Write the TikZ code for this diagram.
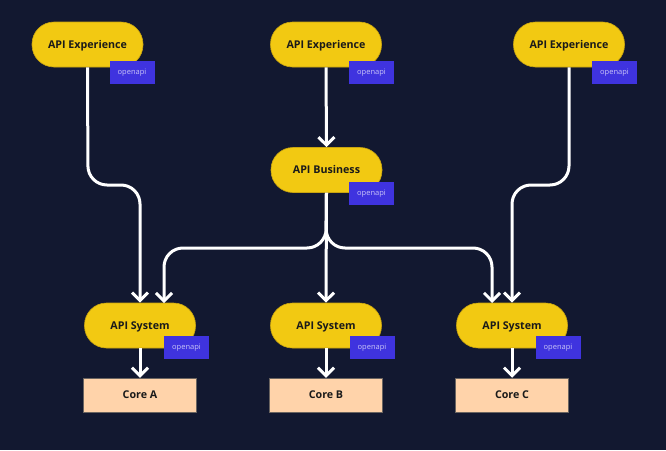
\documentclass[tikz,border=0pt]{standalone}
\usepackage{fontspec}
\setmainfont{Open Sans}
\usetikzlibrary{arrows.meta}
\definecolor{bg}{HTML}{121830}
\definecolor{pillc}{HTML}{F2C912}
\definecolor{pilledge}{HTML}{C9A410}
\definecolor{tagc}{HTML}{3F33DF}
\definecolor{tagtext}{HTML}{C9C4F7}
\definecolor{corec}{HTML}{FFD3AA}
\definecolor{coreedge}{HTML}{6A6460}
\definecolor{txt}{HTML}{1A1A1A}
\tikzset{
  pill/.style={draw=pilledge, line width=0.6pt, fill=pillc, rounded corners=22pt,
    minimum width=111pt, minimum height=45pt, inner sep=0pt,
    text height=7.6pt, text depth=0pt,
    font=\fontsize{10.7}{12}\selectfont\bfseries, text=txt},
  tag/.style={fill=tagc, minimum width=45pt, minimum height=23pt, inner sep=0pt,
    text height=4pt, text depth=0pt,
    font=\fontsize{7.5}{9}\selectfont, text=tagtext},
  core/.style={draw=coreedge, line width=0.5pt, fill=corec, minimum width=113pt,
    minimum height=34pt, inner sep=0pt, text height=7.6pt, text depth=0pt,
    font=\fontsize{10.7}{12}\selectfont\bfseries, text=txt},
  conn/.style={draw=white, line width=3pt, rounded corners=19pt,
    -{Straight Barb[length=8pt,width=16pt]}},
}
\begin{document}
\begin{tikzpicture}[x=1pt,y=-1pt]
\fill[bg] (0,0) rectangle (666,450);
\useasboundingbox (0,0) rectangle (666,450);
% pills
\node[pill] (e1) at (87.5,44.5) {API Experience};
\node[pill] (e2) at (326,44.5) {API Experience};
\node[pill] (e3) at (569,44.5) {API Experience};
\node[pill] (b) at (326.5,170) {API Business};
\node[pill] (s1) at (140,325.5) {API System};
\node[pill] (s2) at (326,325.5) {API System};
\node[pill] (s3) at (512,325.5) {API System};
% cores
\node[core] (c1) at (140,395) {Core A};
\node[core] (c2) at (326,395) {Core B};
\node[core] (c3) at (512,395) {Core C};
% connectors
\draw[conn] (e1.south) -- (88,185) -- (140,185) -- (s1.north);
\draw[conn] (e3.south) -- (569,185) -- (512,185) -- (s3.north);
\draw[conn] (e2.south) -- (b.north);
\draw[conn] (b.south) -- (326,248) -- (164,248) -- (164,303);
\draw[conn] (b.south) -- (s2.north);
\draw[conn] (b.south) -- (326,248) -- (492,248) -- (492,303);
\draw[conn] (s1.south) -- (c1.north);
\draw[conn] (s2.south) -- (c2.north);
\draw[conn] (s3.south) -- (c3.north);
% tags
\node[tag] (t1) at (132,72.5) {openapi};
\node[tag] (t2) at (371.5,72.5) {openapi};
\node[tag] (t3) at (614.5,72.5) {openapi};
\node[tag] (tb) at (371.5,193) {openapi};
\node[tag] (ts1) at (186.5,347.5) {openapi};
\node[tag] (ts2) at (372,347.5) {openapi};
\node[tag] (ts3) at (558,347.5) {openapi};
\end{tikzpicture}
\end{document}
